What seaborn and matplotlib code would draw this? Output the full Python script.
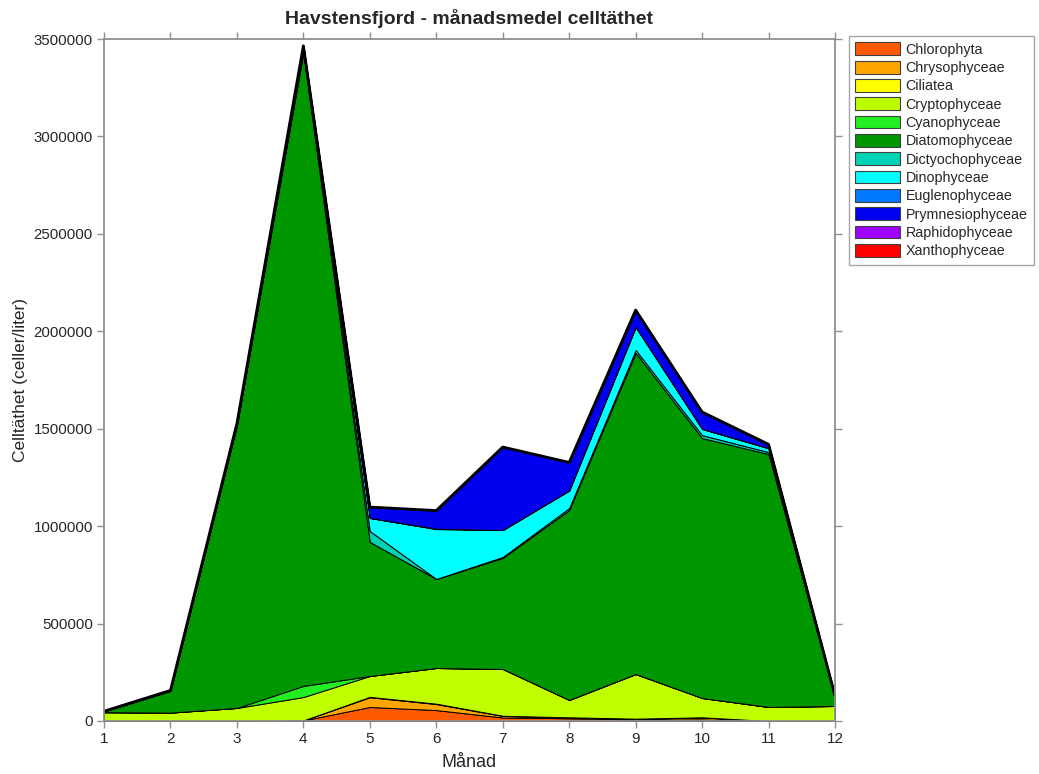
import numpy as np
import pandas as pd
import matplotlib
matplotlib.use("Agg")
import matplotlib.pyplot as plt
import seaborn as sns
from matplotlib.patches import Patch
from matplotlib.ticker import FuncFormatter

months = [1, 2, 3, 4, 5, 6, 7, 8, 9, 10, 11, 12]
groups = ["Chlorophyta", "Chrysophyceae", "Ciliatea", "Cryptophyceae", "Cyanophyceae",
          "Diatomophyceae", "Dictyochophyceae", "Dinophyceae", "Euglenophyceae",
          "Prymnesiophyceae", "Raphidophyceae", "Xanthophyceae"]

chlorophyta      = [0, 0, 0, 3000, 72000, 56000, 18000, 14000, 8000, 8000, 0, 0]
chrysophyceae    = [0, 0, 0, 0, 50000, 31000, 8000, 4000, 3000, 10000, 0, 0]
ciliatea         = [0, 0, 0, 0, 2000, 2000, 1000, 1000, 1000, 1000, 0, 0]
cryptophyceae    = [45000, 43000, 67000, 120000, 107000, 183000, 240000, 89000, 229000, 99000, 72000, 77000]
cyanophyceae     = [0, 0, 0, 57000, 0, 0, 0, 0, 0, 0, 0, 0]
diatomophyceae   = [5000, 112000, 1452000, 3250000, 688000, 457000, 570000, 975000, 1648000, 1334000, 1298000, 45000]
dictyochophyceae = [0, 0, 0, 10000, 56000, 0, 5000, 10000, 15000, 15000, 10000, 0]
dinophyceae      = [0, 0, 5000, 20000, 67000, 256000, 138000, 90000, 118000, 32000, 20000, 3000]
euglenophyceae   = [0, 0, 0, 0, 0, 2000, 0, 0, 0, 0, 0, 0]
prymnesiophyceae = [0, 2000, 3000, 5000, 56000, 93000, 426000, 144000, 87000, 87000, 20000, 5000]
raphidophyceae   = [0, 0, 0, 0, 0, 0, 0, 0, 0, 0, 0, 0]
xanthophyceae    = [0, 0, 0, 0, 0, 0, 0, 0, 0, 0, 0, 0]

series = [chlorophyta, chrysophyceae, ciliatea, cryptophyceae, cyanophyceae,
          diatomophyceae, dictyochophyceae, dinophyceae, euglenophyceae,
          prymnesiophyceae, raphidophyceae, xanthophyceae]

colors = ["#FF5A00", "#FFA500", "#FFFF00", "#BFFF00", "#22EE22", "#009600",
          "#00D2B4", "#00FFFF", "#0078FF", "#0000F0", "#A000FF", "#FF0000"]

yticks = [0, 500000, 1000000, 1500000, 2000000, 2500000, 3000000, 3500000]

sns.set_theme(style="ticks")
plt.rcParams['font.family'] = ['Liberation Sans', 'DejaVu Sans']

fig = plt.figure(figsize=(10.39, 7.74), dpi=100)
ax = fig.add_axes([104/1039, 1-721/774, (835-104)/1039, (721-39)/774])

ax.stackplot(months, *series, colors=colors, edgecolor="black", linewidth=0.7)

df = pd.DataFrame({"Månad": months, "total": np.sum(np.array(series), axis=0)})
sns.lineplot(data=df, x="Månad", y="total", ax=ax, color="black", linewidth=2.0)

ax.set_xlim(1, 12)
ax.set_ylim(0, 3500000)
ax.set_xticks(months)
ax.set_yticks(yticks)
ax.yaxis.set_major_formatter(FuncFormatter(lambda v, p: f"{int(v)}"))

gray = "#909090"
for s in ax.spines.values():
    s.set_visible(True)
    s.set_color(gray)
    s.set_linewidth(1.3)
ax.tick_params(axis="both", which="both", direction="out", length=5, width=1.0,
               color=gray, labelsize=10.8, top=True, right=True,
               labeltop=False, labelright=False, pad=3)
ax.tick_params(axis="x", labelsize=11)

ax.set_xlabel("Månad", fontsize=13, labelpad=6)
ax.set_ylabel("Celltäthet (celler/liter)", fontsize=12.5, labelpad=4)
ax.set_title("Havstensfjord - månadsmedel celltäthet", fontsize=14, fontweight="bold", pad=11)

handles = [Patch(facecolor=c, edgecolor="#404040", linewidth=0.8) for c in colors]
leg = fig.legend(handles, groups, loc="upper left", bbox_to_anchor=(849/1039, 1-36/774),
                 frameon=True, fontsize=10.3, handlelength=3.1, handleheight=1.0,
                 handletextpad=0.4, labelspacing=0.28, borderpad=0.45,
                 borderaxespad=0, fancybox=False)
leg.get_frame().set_edgecolor(gray)
leg.get_frame().set_linewidth(1.0)

fig.savefig("out.png", dpi=100)
